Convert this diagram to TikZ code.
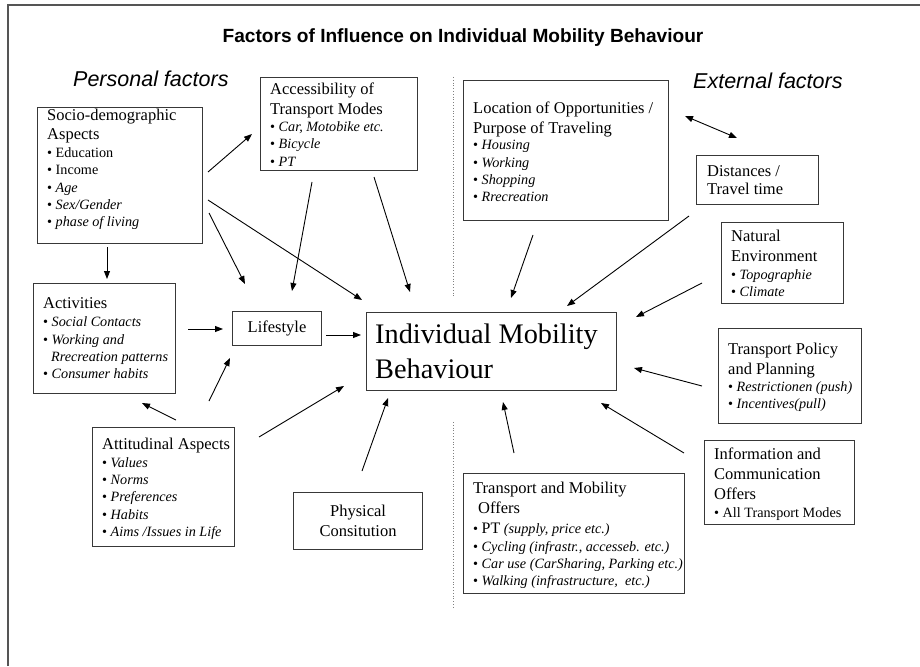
\documentclass[tikz,border=0pt]{standalone}
\usepackage{fontspec}
\setmainfont{Liberation Serif}
\newfontfamily\arialf{Liberation Sans}
\usetikzlibrary{arrows.meta}
\definecolor{boxc}{HTML}{383838}
\definecolor{framec}{HTML}{555555}
\newcommand\hd[1]{{\fontsize{16.5}{19}\selectfont #1}}
\begin{document}
\begin{tikzpicture}[x=1pt,y=-1pt,
  box/.style={draw=boxc, line width=1.1pt, inner sep=0pt, anchor=north west},
  txt/.style={anchor=north west, inner sep=0pt, align=left, font=\fontsize{14.2}{17.3}\selectfont},
  arr/.style={-{Triangle[length=8pt,width=6pt]}, line width=0.9pt},
  darr/.style={{Triangle[length=8pt,width=6pt]}-{Triangle[length=8pt,width=6pt]}, line width=0.9pt}]
\useasboundingbox (0,0) rectangle (920,666);
% frame
\draw[framec, line width=1.5pt] (8,666) -- (8,5) -- (920,5);
% dotted separator
\draw[gray, dotted, line width=0.8pt] (453,77) -- (453,298);
\draw[gray, dotted, line width=0.8pt] (453,422) -- (453,608);
% titles
\node[anchor=base, inner sep=0pt, font=\arialf\bfseries\fontsize{19.1}{22}\selectfont] (title) at (463,43) {Factors of Influence on Individual Mobility Behaviour};
\node[anchor=base west, inner sep=0pt, font=\arialf\itshape\fontsize{21.5}{24}\selectfont] (pers) at (73,87) {Personal factors};
\node[anchor=base west, inner sep=0pt, font=\arialf\itshape\fontsize{21.5}{24}\selectfont] (ext) at (693,89) {External factors};
% boxes
\node[box, minimum width=165pt, minimum height=136pt] (soc) at (37,107) {};
\node[box, minimum width=157pt, minimum height=93pt] (acc) at (260,77) {};
\node[box, minimum width=205pt, minimum height=140pt] (loc) at (463,80) {};
\node[box, minimum width=122pt, minimum height=49pt] (dist) at (696,155) {};
\node[box, minimum width=122pt, minimum height=81pt] (nat) at (721,222) {};
\node[box, minimum width=143pt, minimum height=95pt] (pol) at (718,328) {};
\node[box, minimum width=150pt, minimum height=84pt] (info) at (704,440) {};
\node[box, minimum width=221pt, minimum height=120pt] (tmo) at (463,473) {};
\node[box, minimum width=142pt, minimum height=110pt] (act) at (33,283) {};
\node[box, minimum width=142pt, minimum height=119pt] (att) at (92,427) {};
\node[box, minimum width=129pt, minimum height=57pt, align=center, font=\fontsize{16.5}{20}\selectfont] (phys) at (293,492) {Physical\\Consitution};
\node[box, minimum width=89pt, minimum height=34pt, font=\fontsize{16.5}{20}\selectfont] (life) at (232,311) {Lifestyle};
\node[box, minimum width=250pt, minimum height=78pt] (imb) at (366,312) {};
% box texts
\node[txt] (soct) at (47,108.7) {\hd{Socio-demographic}\\[2pt] \hd{Aspects}\\[0.7pt] • Education\\ • Income\\ • \textit{Age}\\ • \textit{Sex/Gender}\\ • \textit{phase of living}};
\node[txt] (acct) at (270,82.2) {\hd{Accessibility of}\\[3pt] \hd{Transport Modes}\\ • \textit{Car, Motobike etc.}\\ • \textit{Bicycle}\\ • \textit{PT}};
\node[txt] (loct) at (473,101.7) {\hd{Location of Opportunities /}\\[2.7pt] \hd{Purpose of Traveling}\\[-1pt] • \textit{Housing}\\ • \textit{Working}\\ • \textit{Shopping}\\ • \textit{Rrecreation}};
\node[txt] (distt) at (707,165.7) {\hd{Distances /}\\[0.7pt] \hd{Travel time}};
\node[txt] (natt) at (731,229.7) {\hd{Natural}\\[2.7pt] \hd{Environment}\\[0.7pt] • \textit{Topographie}\\ • \textit{Climate}};
\node[txt] (polt) at (728,342.7) {\hd{Transport Policy}\\[2.7pt] \hd{and Planning}\\ • \textit{Restrictionen (push)}\\ • \textit{Incentives(pull)}};
\node[txt] (infot) at (714,447.7) {\hd{Information and}\\[2.7pt] \hd{Communication}\\[2.7pt] \hd{Offers}\\[0.7pt] • All Transport Modes};
\node[txt] (tmot) at (473,481.7) {\hd{Transport and Mobility}\\[2.7pt] \hd{\hspace*{5pt}Offers}\\[2.7pt] • {\fontsize{16}{19}\selectfont PT} \textit{(supply, price etc.)}\\[0.7pt] • \textit{Cycling (infrastr., accesseb. etc.)}\\ • \textit{Car use (CarSharing, Parking etc.)}\\ • \textit{Walking (infrastructure,\ \ etc.)}};
\node[txt] (actt) at (43,297.7) {\hd{Activities}\\[0.7pt] • \textit{Social Contacts}\\ • \textit{Working and}\\ \hspace*{8pt}\textit{Rrecreation patterns}\\ • \textit{Consumer habits}};
\node[txt] (attt) at (102,437.7) {\hd{Attitudinal Aspects}\\[0.7pt] • \textit{Values}\\ • \textit{Norms}\\ • \textit{Preferences}\\ • \textit{Habits}\\ • \textit{Aims /Issues in Life}};
\node[anchor=north west, inner sep=0pt, align=left, font=\fontsize{28.3}{35}\selectfont] (imbt) at (375,323.7) {Individual Mobility\\Behaviour};
% arrow end points
\coordinate (a1s) at (208,172);  \coordinate (a1e) at (252,134);
\coordinate (a2s) at (208,200);  \coordinate (a2e) at (362,300);
\coordinate (a3s) at (209,213);  \coordinate (a3e) at (245,284);
\coordinate (a4s) at (312,182);  \coordinate (a4e) at (292,291);
\coordinate (a5s) at (374,177);  \coordinate (a5e) at (410,292);
\coordinate (a6s) at (107,247);  \coordinate (a6e) at (107,279);
\coordinate (a7s) at (188,329);  \coordinate (a7e) at (223,329);
\coordinate (a8s) at (326,335);  \coordinate (a8e) at (361,335);
\coordinate (a9s) at (176,420);  \coordinate (a9e) at (142,403);
\coordinate (a10s) at (209,401); \coordinate (a10e) at (230,358);
\coordinate (a11s) at (259,437); \coordinate (a11e) at (344,386);
\coordinate (a12s) at (362,471); \coordinate (a12e) at (388,398);
\coordinate (a13s) at (533,235); \coordinate (a13e) at (511,298);
\coordinate (a14s) at (689,216); \coordinate (a14e) at (567,306);
\coordinate (a15s) at (702,283); \coordinate (a15e) at (636,317);
\coordinate (a16s) at (702,386); \coordinate (a16e) at (634,368);
\coordinate (a17s) at (684,453); \coordinate (a17e) at (601,403);
\coordinate (a18s) at (514,453); \coordinate (a18e) at (503,402);
\coordinate (a19s) at (685,116); \coordinate (a19e) at (737,138);
% arrows
\foreach \i in {1,...,18} {\draw[arr] (a\i s) -- (a\i e);}
\draw[darr] (a19s) -- (a19e);
\end{tikzpicture}
\end{document}
